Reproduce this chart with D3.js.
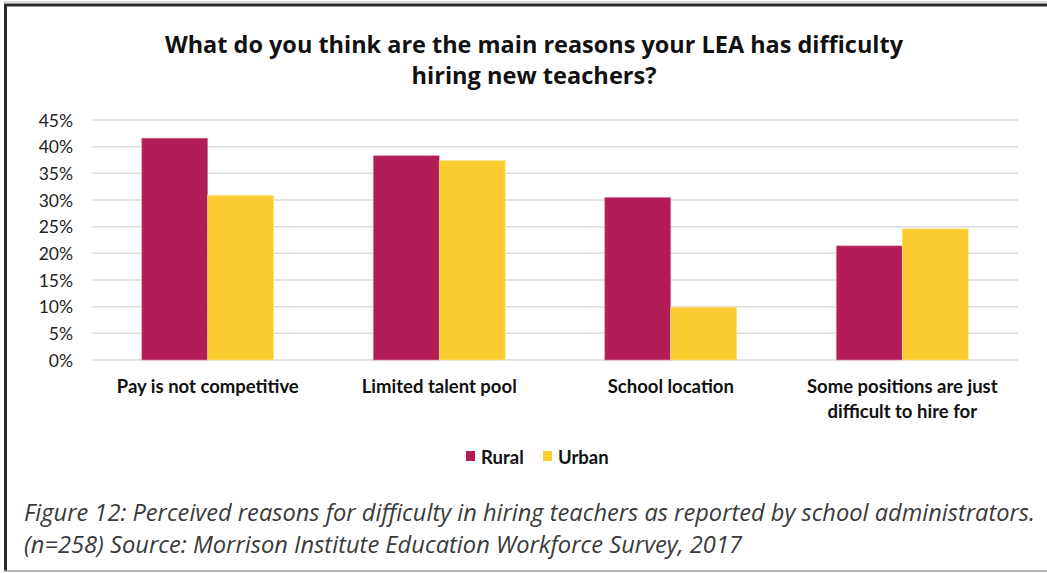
<!DOCTYPE html>
<html><head><meta charset="utf-8">
<script src="https://cdn.jsdelivr.net/npm/d3@7"></script>
<style>html,body{margin:0;padding:0;background:#fff;}svg{display:block;}</style>
</head><body>
<svg id="chart" width="1047" height="573"></svg>
<script>
const categories = [["Pay is not competitive"], ["Limited talent pool"], ["School location"], ["Some positions are just", "difficult to hire for"]];
const seriesNames = ["Rural", "Urban"];
const rural = [41.6, 38.3, 30.5, 21.4];
const urban = [30.9, 37.4, 9.9, 24.6];
const yTicks = [0, 5, 10, 15, 20, 25, 30, 35, 40, 45];
const titleLines = ["What do you think are the main reasons your LEA has difficulty", "hiring new teachers?"];
const captionLines = ["Figure 12: Perceived reasons for difficulty in hiring teachers as reported by school administrators.", "(n=258) Source: Morrison Institute Education Workforce Survey, 2017"];
const colors = ["#B31D57", "#FDCC30"];

const svg = d3.select("#chart");
const W = 1047, H = 573;

// frame
svg.append("line").attr("x1", 3).attr("x2", W).attr("y1", 2).attr("y2", 2).attr("stroke", "#bbb").attr("stroke-width", 1);
svg.append("line").attr("x1", 4).attr("x2", W).attr("y1", 5).attr("y2", 5).attr("stroke", "#2b2b2b").attr("stroke-width", 3);
svg.append("line").attr("x1", 5.5).attr("x2", 5.5).attr("y1", 4).attr("y2", 571).attr("stroke", "#2b2b2b").attr("stroke-width", 3);
svg.append("line").attr("x1", 4).attr("x2", W).attr("y1", 571).attr("y2", 571).attr("stroke", "#999").attr("stroke-width", 1.5);

const x0 = d3.scaleBand().domain(d3.range(categories.length)).range([92, 1018]).paddingInner(0.43).paddingOuter(0.215);
const x1 = d3.scaleBand().domain(seriesNames).range([0, x0.bandwidth()]);
const y = d3.scaleLinear().domain([0, 45]).range([360, 120]);

// gridlines
svg.append("g").selectAll("line").data(yTicks).join("line")
  .attr("x1", 92).attr("x2", 1018)
  .attr("y1", d => y(d)).attr("y2", d => y(d))
  .attr("stroke", "#dcdcdc").attr("stroke-width", 1.5);

// y axis labels
const yAxis = d3.axisLeft(y).tickValues(yTicks).tickFormat(d => d + "%").tickSize(0).tickPadding(0);
const yg = svg.append("g").attr("transform", "translate(73,0)").call(yAxis);
yg.select(".domain").remove();
yg.selectAll("text").attr("font-family", "Lato, sans-serif").attr("font-size", 17.5).attr("fill", "#222").attr("dy", "0.36em");

// bars
const data = categories.map((c, i) => ({i, vals: [rural[i], urban[i]]}));
const groups = svg.append("g").selectAll("g").data(data).join("g")
  .attr("transform", d => `translate(${x0(d.i)},0)`);
groups.selectAll("rect").data(d => d.vals.map((v, k) => ({k, v}))).join("rect")
  .attr("x", d => x1(seriesNames[d.k]))
  .attr("width", x1.bandwidth())
  .attr("y", d => y(d.v))
  .attr("height", d => y(0) - y(d.v))
  .attr("fill", d => colors[d.k])
  .attr("stroke", d => d.k === 0 ? "#d98aa8" : "#fde49a")
  .attr("stroke-width", 0.6);

// category labels
const catFs = 18.5;
const cat = svg.append("g");
categories.forEach((lines, i) => {
  const t = cat.append("text").attr("text-anchor", "middle")
    .attr("font-family", "Lato, sans-serif").attr("font-weight", "bold").attr("font-size", catFs).attr("fill", "#111");
  lines.forEach((l, j) => t.append("tspan").attr("x", x0(i) + x0.bandwidth() / 2).attr("y", 393 + j * 25).text(l));
});

// legend
const lg = svg.append("g");
const legX = [466, 543];
seriesNames.forEach((s, k) => {
  lg.append("rect").attr("x", legX[k]).attr("y", 451).attr("width", 9).attr("height", 10).attr("fill", colors[k]);
  lg.append("text").attr("x", legX[k] + 15).attr("y", 464).attr("font-family", "Lato, sans-serif").attr("font-weight", "bold").attr("font-size", catFs).attr("fill", "#111").text(s);
});

// title
const titleW = [738, 245];
titleLines.forEach((l, j) => {
  svg.append("text").attr("x", 534).attr("y", 53 + j * 31).attr("text-anchor", "middle")
    .attr("font-family", "'Open Sans', sans-serif").attr("font-weight", "bold").attr("font-size", 24).attr("fill", "#111")
    .attr("textLength", titleW[j]).attr("lengthAdjust", "spacingAndGlyphs").text(l);
});

// caption
const capW = [1011, 718];
captionLines.forEach((l, j) => {
  svg.append("text").attr("x", 24).attr("y", 521 + j * 32)
    .attr("font-family", "'Open Sans', sans-serif").attr("font-style", "italic").attr("font-size", 23.5).attr("fill", "#3a3a3a")
    .attr("textLength", capW[j]).attr("lengthAdjust", "spacingAndGlyphs").text(l);
});
</script>
</body></html>
